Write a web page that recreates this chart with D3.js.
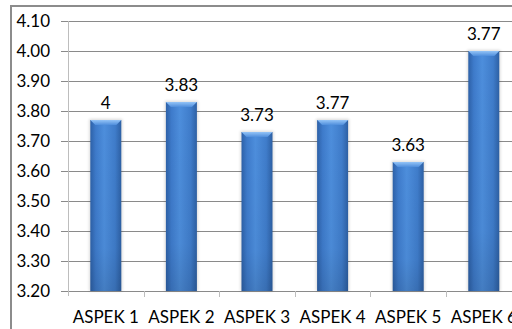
<!DOCTYPE html>
<html>
<head>
<meta charset="utf-8">
<script src="https://cdn.jsdelivr.net/npm/d3@7"></script>
<style>
  html, body { margin: 0; padding: 0; background: #fff; }
  svg { display: block; }
  text { font-family: Lato, "Open Sans", sans-serif; fill: #000; }
</style>
</head>
<body>
<div id="chart"></div>
<script>
// data
var categories = ["ASPEK 1", "ASPEK 2", "ASPEK 3", "ASPEK 4", "ASPEK 5", "ASPEK 6"];
var values = [3.77, 3.83, 3.73, 3.77, 3.63, 4.00];
var labels = ["4", "3.83", "3.73", "3.77", "3.63", "3.77"];
var yTicks = [3.2, 3.3, 3.4, 3.5, 3.6, 3.7, 3.8, 3.9, 4.0, 4.1];

var width = 512, height = 329;
var plotLeft = 68, plotTop = 21, plotBottom = 291, step = 75.6;

var svg = d3.select("#chart").append("svg")
    .attr("width", width)
    .attr("height", height);

var defs = svg.append("defs");

var g1 = defs.append("linearGradient").attr("id", "barGrad")
    .attr("x1", "0").attr("x2", "1").attr("y1", "0").attr("y2", "0");
g1.append("stop").attr("offset", "0%").attr("stop-color", "#2d61a8");
g1.append("stop").attr("offset", "18%").attr("stop-color", "#3e7bcb");
g1.append("stop").attr("offset", "45%").attr("stop-color", "#4d8edc");
g1.append("stop").attr("offset", "80%").attr("stop-color", "#3f7cca");
g1.append("stop").attr("offset", "100%").attr("stop-color", "#2d60a4");

var g2 = defs.append("linearGradient").attr("id", "shade")
    .attr("x1", "0").attr("x2", "0").attr("y1", "0").attr("y2", "1");
g2.append("stop").attr("offset", "0%").attr("stop-color", "#000").attr("stop-opacity", 0);
g2.append("stop").attr("offset", "75%").attr("stop-color", "#000").attr("stop-opacity", 0.03);
g2.append("stop").attr("offset", "100%").attr("stop-color", "#000").attr("stop-opacity", 0.12);

var g3 = defs.append("linearGradient").attr("id", "bevel")
    .attr("x1", "0").attr("x2", "0").attr("y1", "0").attr("y2", "1");
g3.append("stop").attr("offset", "0%").attr("stop-color", "#94c4f7");
g3.append("stop").attr("offset", "100%").attr("stop-color", "#4f8edc");

var blur = defs.append("filter").attr("id", "glow")
    .attr("x", "-30%").attr("y", "-10%").attr("width", "160%").attr("height", "120%");
blur.append("feGaussianBlur").attr("stdDeviation", 1.5);

var x = d3.scaleBand()
    .domain(categories)
    .range([plotLeft, plotLeft + step * categories.length]);

var y = d3.scaleLinear()
    .domain([3.2, 4.1])
    .range([plotBottom, plotTop]);

var barW = x.bandwidth() * 0.41;

// outer chart border
svg.append("rect")
    .attr("x", 11).attr("y", 6)
    .attr("width", 520).attr("height", 340)
    .attr("fill", "none")
    .attr("stroke", "#8c8c8c")
    .attr("stroke-width", 2);

// horizontal gridlines
svg.selectAll(".grid")
    .data(yTicks)
    .enter().append("line")
    .attr("class", "grid")
    .attr("x1", plotLeft - 7).attr("x2", width + 20)
    .attr("y1", function(d) { return Math.round(y(d)) + 0.5; })
    .attr("y2", function(d) { return Math.round(y(d)) + 0.5; })
    .attr("stroke", "#8a8a8a")
    .attr("stroke-width", 1);

// y axis line
svg.append("line")
    .attr("x1", plotLeft + 0.5).attr("x2", plotLeft + 0.5)
    .attr("y1", plotTop).attr("y2", plotBottom + 5)
    .attr("stroke", "#bdbdbd");

// category ticks
svg.selectAll(".ctick")
    .data(categories)
    .enter().append("line")
    .attr("class", "ctick")
    .attr("x1", function(d) { return Math.round(x(d) + x.bandwidth()) + 0.5; })
    .attr("x2", function(d) { return Math.round(x(d) + x.bandwidth()) + 0.5; })
    .attr("y1", plotBottom).attr("y2", plotBottom + 6)
    .attr("stroke", "#bdbdbd");

// y tick labels
svg.selectAll(".ylab")
    .data(yTicks)
    .enter().append("text")
    .attr("class", "ylab")
    .attr("x", 50)
    .attr("y", function(d) { return y(d) + 6; })
    .attr("text-anchor", "end")
    .style("font-size", "17px")
    .text(function(d) { return d.toFixed(2); });

// category labels
svg.selectAll(".xlab")
    .data(categories)
    .enter().append("text")
    .attr("class", "xlab")
    .attr("x", function(d) { return x(d) + x.bandwidth() / 2; })
    .attr("y", 323)
    .attr("text-anchor", "middle")
    .style("font-size", "17px")
    .text(function(d) { return d; });

// bars
var bars = svg.selectAll(".bar")
    .data(values)
    .enter().append("g")
    .attr("class", "bar");

bars.append("rect")
    .attr("x", function(d, i) { return x(categories[i]) + (x.bandwidth() - barW) / 2 - 1; })
    .attr("y", function(d) { return y(d) - 1; })
    .attr("width", barW + 2)
    .attr("height", function(d) { return plotBottom - y(d) + 1; })
    .attr("fill", "#000")
    .attr("opacity", 0.15)
    .attr("filter", "url(#glow)");

bars.append("rect")
    .attr("x", function(d, i) { return x(categories[i]) + (x.bandwidth() - barW) / 2; })
    .attr("y", function(d) { return y(d); })
    .attr("width", barW)
    .attr("height", function(d) { return plotBottom - y(d); })
    .attr("fill", "url(#barGrad)");

bars.append("rect")
    .attr("x", function(d, i) { return x(categories[i]) + (x.bandwidth() - barW) / 2; })
    .attr("y", function(d) { return y(d); })
    .attr("width", barW)
    .attr("height", function(d) { return plotBottom - y(d); })
    .attr("fill", "url(#shade)");

// top bevel
bars.append("path")
    .attr("d", function(d, i) {
        var x0 = x(categories[i]) + (x.bandwidth() - barW) / 2,
            x1 = x0 + barW,
            t = y(d), b = 5;
        return "M" + x0 + "," + t + "L" + x1 + "," + t +
               "L" + (x1 - b) + "," + (t + b) + "L" + (x0 + b) + "," + (t + b) + "Z";
    })
    .attr("fill", "url(#bevel)");

// value labels
svg.selectAll(".vlab")
    .data(values)
    .enter().append("text")
    .attr("class", "vlab")
    .attr("x", function(d, i) { return x(categories[i]) + x.bandwidth() / 2; })
    .attr("y", function(d) { return y(d) - 11; })
    .attr("text-anchor", "middle")
    .style("font-size", "17px")
    .text(function(d, i) { return labels[i]; });
</script>
</body>
</html>
